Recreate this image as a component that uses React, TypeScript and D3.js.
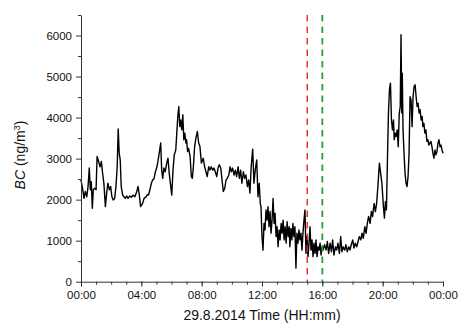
import React, { useEffect, useRef } from "react";
import * as d3 from "d3";

// minutes after midnight on 29.8.2014
const minutes = [
  0, 7, 12, 17, 23, 28, 33, 37, 41, 45, 49, 54, 60, 64, 70, 76, 81, 86, 91, 97,
  102, 107, 113, 118, 123, 128, 134, 139, 144, 148, 152, 156, 160, 166, 171, 176, 182, 187, 194, 200,
  207, 214, 220, 227, 232, 237, 245, 251,
  259, 264, 269, 274, 280, 285, 290, 296, 301, 306, 311, 317, 321, 325, 330, 335, 341, 346, 351, 357,
  361, 366, 371, 377, 381, 385, 389, 393, 397, 401, 405, 409, 413, 417, 420, 424, 428, 434, 439, 443,
  447, 452, 457, 463, 468, 473,
  479, 486, 492, 497, 502, 508, 513, 518, 524, 529, 534, 540, 545, 550, 556, 561, 566, 572, 577, 582,
  588, 593, 598, 603, 609, 614, 619, 625, 630, 635, 640, 646, 651, 656, 662, 667, 672, 677, 683, 688,
  693, 699, 704, 709,
  713, 716, 720, 724, 728, 732, 736, 740, 744, 748, 752, 756, 760, 764, 768, 772, 776, 780, 784, 788,
  792, 796, 800, 804, 808, 812, 816, 820, 824, 828, 831, 835, 839, 843, 847, 851, 855, 859, 863, 867,
  871, 875, 879, 883, 887, 891, 895, 899, 903, 907, 911, 915, 919, 923, 927, 931, 935, 939, 943, 947,
  951, 955, 959, 963, 967,
  969, 975, 980, 985, 991, 996, 1001, 1006, 1012, 1017, 1022, 1028, 1033, 1038, 1043, 1049, 1054, 1059, 1065, 1070,
  1075, 1081, 1086, 1091, 1097, 1102, 1107, 1113, 1118, 1123, 1129, 1134, 1139, 1144, 1150, 1155, 1160, 1166, 1171, 1176,
  1181, 1187, 1192, 1197, 1203, 1207, 1211, 1215,
  1219, 1223, 1227, 1231, 1235, 1239, 1243, 1246, 1250, 1254, 1258, 1262, 1266, 1270, 1273, 1276, 1278, 1281, 1285, 1289,
  1293, 1297, 1301, 1305, 1309, 1313, 1317, 1321, 1325, 1329, 1333, 1337, 1341, 1345, 1349, 1353, 1357, 1360, 1364, 1368,
  1372, 1376, 1380, 1384, 1388, 1392, 1396, 1400, 1404, 1408, 1412, 1416, 1420, 1424, 1428, 1432, 1436, 1440,
];

// black carbon, ng/m3
const bc = [
  2480, 2240, 2030, 2200, 2070, 2320, 2770, 2240, 2440, 1790, 2240, 2280, 2240, 3050, 2930, 2800, 2930, 2640, 2400, 1830,
  2160, 2400, 2240, 2320, 2070, 1990, 2030, 2320, 2800, 3720, 3130, 2970, 2320, 2110, 2070, 2030, 2090, 2030, 2090, 2060,
  2110, 2070, 2160, 2320, 2110, 1830, 1910, 2030,
  2070, 2120, 2120, 2240, 2400, 2480, 2500, 2680, 2770, 2930, 3130, 3380, 2720, 2520, 2770, 2680, 2890, 3010, 2640, 2320,
  2110, 2720, 3090, 3210, 3620, 4020, 4270, 3780, 3940, 3700, 4070, 3460, 3620, 3380, 3460, 3170, 3250, 3050, 2560, 2520,
  2800, 3290, 3500, 3660, 3380, 3300,
  2890, 3010, 2800, 2680, 2560, 2800, 2720, 2800, 2720, 2770, 2680, 2560, 2770, 2850, 2770, 2480, 2200, 2280, 2480, 2520,
  2600, 2800, 2680, 2770, 2600, 2720, 2560, 2800, 2520, 2720, 2400, 2680, 2520, 2600, 2320, 2480, 2160, 2800, 3230, 2400,
  2720, 2970, 2070, 2400,
  1910, 1830, 1100, 770, 1420, 1260, 1750, 1500, 1830, 1340, 1710, 1180, 1500, 2030, 1420, 1670, 1100, 1340, 850, 1260,
  1020, 1420, 1180, 1500, 1020, 1340, 940, 1460, 1100, 1340, 850, 1300, 1020, 1420, 1100, 1340, 330, 1180, 940, 1260,
  1020, 1180, 770, 1180, 1500, 1750, 690, 1100, 610, 940, 1340, 770, 1020, 610, 940, 690, 1020, 610, 850, 770,
  940, 650, 850, 770, 850,
  900, 770, 980, 690, 940, 730, 1020, 650, 850, 770, 940, 690, 1100, 730, 850, 770, 900, 730, 850, 770,
  900, 1020, 820, 940, 850, 980, 1100, 1020, 1180, 1060, 1340, 1180, 1420, 1590, 1420, 1710, 1590, 1910, 1710, 1910,
  2320, 2890, 2640, 2400, 1830, 1550, 1950, 1750,
  2970, 4110, 4680, 4840, 3940, 3700, 3940, 3460, 3620, 3540, 3700, 3290, 4110, 4270, 6020, 4110, 5080, 3700, 3130, 2640,
  2400, 2320, 2560, 3130, 4510, 4430, 3780, 4510, 4760, 4800, 4510, 4270, 4350, 4110, 4190, 3940, 4030, 3780, 3860, 3620,
  3700, 3420, 3460, 3330, 3380, 3420, 3290, 3130, 3010, 3210, 3090, 3170, 3380, 3460, 3290, 3330, 3210, 3130,
];

const yTicks = [0, 1000, 2000, 3000, 4000, 5000, 6000];
const yMinorTicks = [500, 1500, 2500, 3500, 4500, 5500, 6500];
const markerMinutes = [900, 960]; // 15:00 and 16:00

const App = () => {
  const container = useRef<SVGSVGElement | null>(null);

  useEffect(() => {
    document.body.style.margin = "0";

    const width = 458;
    const height = 324;
    const marginLeft = 81;
    const marginRight = 15;
    const marginTop = 15;
    const marginBottom = 42.3;
    const font = "'Liberation Sans', Arial, sans-serif";

    const t0 = Date.UTC(2014, 7, 29);
    const toDate = (m: number) => new Date(t0 + m * 60000);

    const x = d3
      .scaleUtc()
      .domain([toDate(0), toDate(1440)])
      .range([marginLeft, width - marginRight]);

    const y = d3
      .scaleLinear()
      .domain([0, 6500])
      .range([height - marginBottom, marginTop]);

    const svg = d3.select(container.current);
    svg.selectAll("*").remove();

    // data line
    const line = d3
      .line<number>()
      .x((_, i) => x(toDate(minutes[i])))
      .y((d) => y(d));

    svg
      .append("path")
      .datum(bc)
      .attr("fill", "none")
      .attr("stroke", "#000")
      .attr("stroke-width", 1.4)
      .attr("stroke-linejoin", "round")
      .attr("d", line);

    // dashed markers
    const markerColors = ["#e3262b", "#2e9a3c"];
    svg
      .append("g")
      .selectAll("line")
      .data(markerMinutes)
      .join("line")
      .attr("x1", (d) => x(toDate(d)))
      .attr("x2", (d) => x(toDate(d)))
      .attr("y1", y(6500))
      .attr("y2", y(0))
      .attr("stroke", (_, i) => markerColors[i])
      .attr("stroke-width", (_, i) => (i === 0 ? 1.4 : 1.8))
      .attr("stroke-dasharray", "6.5,5");

    // y axis
    svg
      .append("g")
      .attr("transform", `translate(${marginLeft},0)`)
      .call(d3.axisLeft(y).tickValues(yMinorTicks).tickSize(3).tickSizeOuter(0).tickFormat(() => ""))
      .call((g) => g.select(".domain").remove())
      .call((g) => g.selectAll("line").attr("stroke", "#333"));

    svg
      .append("g")
      .attr("transform", `translate(${marginLeft},0)`)
      .call(
        d3
          .axisLeft(y)
          .tickValues(yTicks)
          .tickSize(5)
          .tickPadding(4)
          .tickSizeOuter(0)
          .tickFormat(d3.format("d"))
      )
      .call((g) => g.selectAll("text").style("font-family", font).style("font-size", "11.5px").attr("fill", "#111"))
      .call((g) => g.selectAll("line, path").attr("stroke", "#333"));

    // x axis
    const xBase = height - marginBottom;
    svg
      .append("g")
      .attr("transform", `translate(0,${xBase})`)
      .call(d3.axisBottom(x).ticks(d3.utcHour.every(1)).tickSize(3).tickSizeOuter(0).tickFormat(() => ""))
      .call((g) => g.select(".domain").remove())
      .call((g) => g.selectAll("line").attr("stroke", "#333"));

    svg
      .append("g")
      .attr("transform", `translate(0,${xBase})`)
      .call(
        d3
          .axisBottom(x)
          .ticks(d3.utcHour.every(4))
          .tickSize(5)
          .tickPadding(4)
          .tickSizeOuter(0)
          .tickFormat((d) => d3.utcFormat("%H:%M")(d as Date))
      )
      .call((g) => g.selectAll("text").style("font-family", font).style("font-size", "11.5px").attr("fill", "#111"))
      .call((g) => g.selectAll("line, path").attr("stroke", "#333"));

    // axis titles
    svg
      .append("text")
      .attr("x", (marginLeft + width - marginRight) / 2)
      .attr("y", 320)
      .attr("text-anchor", "middle")
      .style("font-family", font)
      .style("font-size", "14px")
      .attr("fill", "#111")
      .text("29.8.2014 Time (HH:mm)");

    const yTitle = svg
      .append("text")
      .attr("transform", "translate(25,155) rotate(-90)")
      .attr("text-anchor", "middle")
      .style("font-family", font)
      .style("font-size", "14px")
      .attr("fill", "#111");
    yTitle.append("tspan").style("font-style", "italic").text("BC");
    yTitle.append("tspan").text(" (ng/m");
    yTitle.append("tspan").attr("dy", -5).style("font-size", "9px").text("3");
    yTitle.append("tspan").attr("dy", 5).text(")");
  }, []);

  return <svg ref={container} width={458} height={324} style={{ display: "block" }} />;
};

export default App;
